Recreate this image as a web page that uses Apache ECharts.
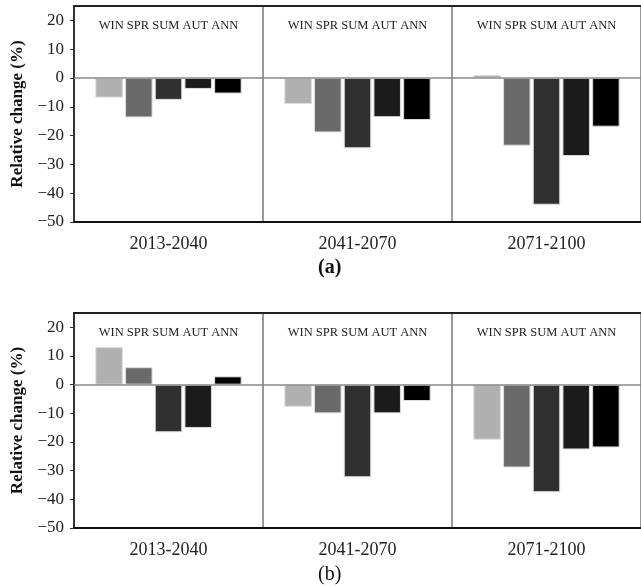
<!DOCTYPE html>
<html>
<head>
<meta charset="utf-8">
<script src="https://cdn.jsdelivr.net/npm/echarts@6/dist/echarts.min.js"></script>
<style>html,body{margin:0;padding:0;background:#fff}#c{width:641px;height:588px}</style>
</head>
<body>
<div id="c"></div>
<script>
const seasons = ['WIN', 'SPR', 'SUM', 'AUT', 'ANN'];
const periods = ['2013-2040', '2041-2070', '2071-2100'];
const yTicks = [-50, -40, -30, -20, -10, 0, 10, 20];
const colors = ['#b0b0b0', '#6a6a6a', '#303030', '#1b1b1b', '#000000'];

// panel (a)
const aWIN = [-6.8, -9.0, 1.0];
const aSPR = [-13.7, -18.9, -23.5];
const aSUM = [-7.6, -24.4, -44.0];
const aAUT = [-3.8, -13.6, -27.1];
const aANN = [-5.4, -14.6, -16.9];
// panel (b)
const bWIN = [13.1, -7.7, -19.2];
const bSPR = [6.1, -10.0, -28.9];
const bSUM = [-16.6, -32.3, -37.5];
const bAUT = [-15.1, -10.0, -22.6];
const bANN = [2.9, -5.7, -21.9];

const panelA = [aWIN, aSPR, aSUM, aAUT, aANN];
const panelB = [bWIN, bSPR, bSUM, bAUT, bANN];

const serif = 'Liberation Serif, Times New Roman, serif';

function xAxesFor(gi) {
  return [
    {
      type: 'category', gridIndex: gi, data: periods, position: 'bottom',
      axisLine: { show: true, onZero: false, lineStyle: { color: '#111', width: 2 } },
      axisTick: { show: false },
      axisLabel: { fontFamily: serif, fontSize: 18, color: '#222', margin: 13 },
      splitLine: { show: true, lineStyle: { color: '#777', width: 1.5 } }
    },
    {
      type: 'category', gridIndex: gi, data: periods, position: 'top',
      axisLine: { show: true, onZero: false, lineStyle: { color: '#222', width: 2 } },
      axisTick: { show: false },
      axisLabel: { inside: true, margin: 13, fontFamily: serif, fontSize: 12.5, color: '#222',
        formatter: () => seasons.join(' ') },
      splitLine: { show: false }
    }
  ];
}
function yAxisFor(gi) {
  return {
    type: 'value', gridIndex: gi, min: -50, max: 25,
    name: 'Relative change (%)', nameLocation: 'middle', nameGap: 46,
    nameTextStyle: { fontFamily: serif, fontSize: 17, fontWeight: 'bold', color: '#111' },
    axisLine: { show: true, lineStyle: { color: '#333', width: 2 } },
    axisTick: { show: true, inside: false, length: 4, customValues: yTicks, lineStyle: { color: '#333' } },
    axisLabel: { fontFamily: serif, fontSize: 17, color: '#222', margin: 10, customValues: yTicks,
      formatter: v => (v < 0 ? '\u2212' + Math.abs(v) : String(v)) },
    splitLine: { show: false }
  };
}
function seriesFor(panel, gi) {
  return panel.map((vals, i) => ({
    type: 'bar', name: seasons[i], xAxisIndex: gi * 2, yAxisIndex: gi, data: vals,
    barWidth: 27.5, barGap: '8%',
    itemStyle: { color: colors[i], borderColor: '#dcdcdc', borderWidth: 1 },
    markLine: i === 0 ? {
      silent: true, symbol: 'none', label: { show: false },
      lineStyle: { color: '#888', width: 1.5, type: 'solid' },
      data: [{ yAxis: 0 }]
    } : undefined
  }));
}

const chart = echarts.init(document.getElementById('c'));
chart.setOption({
  animation: false,
  backgroundColor: '#fff',
  grid: [
    { left: 74, width: 574, top: 6, height: 216 },
    { left: 74, width: 574, top: 313, height: 215 }
  ],
  xAxis: [...xAxesFor(0), ...xAxesFor(1)],
  yAxis: [yAxisFor(0), yAxisFor(1)],
  series: [...seriesFor(panelA, 0), ...seriesFor(panelB, 1)],
  graphic: [
    { type: 'text', left: 318, top: 258, style: { text: '(a)', font: 'bold 20px ' + serif, fill: '#111' } },
    { type: 'text', left: 318, top: 565, style: { text: '(b)', font: '20px ' + serif, fill: '#111' } }
  ]
});
</script>
</body>
</html>
